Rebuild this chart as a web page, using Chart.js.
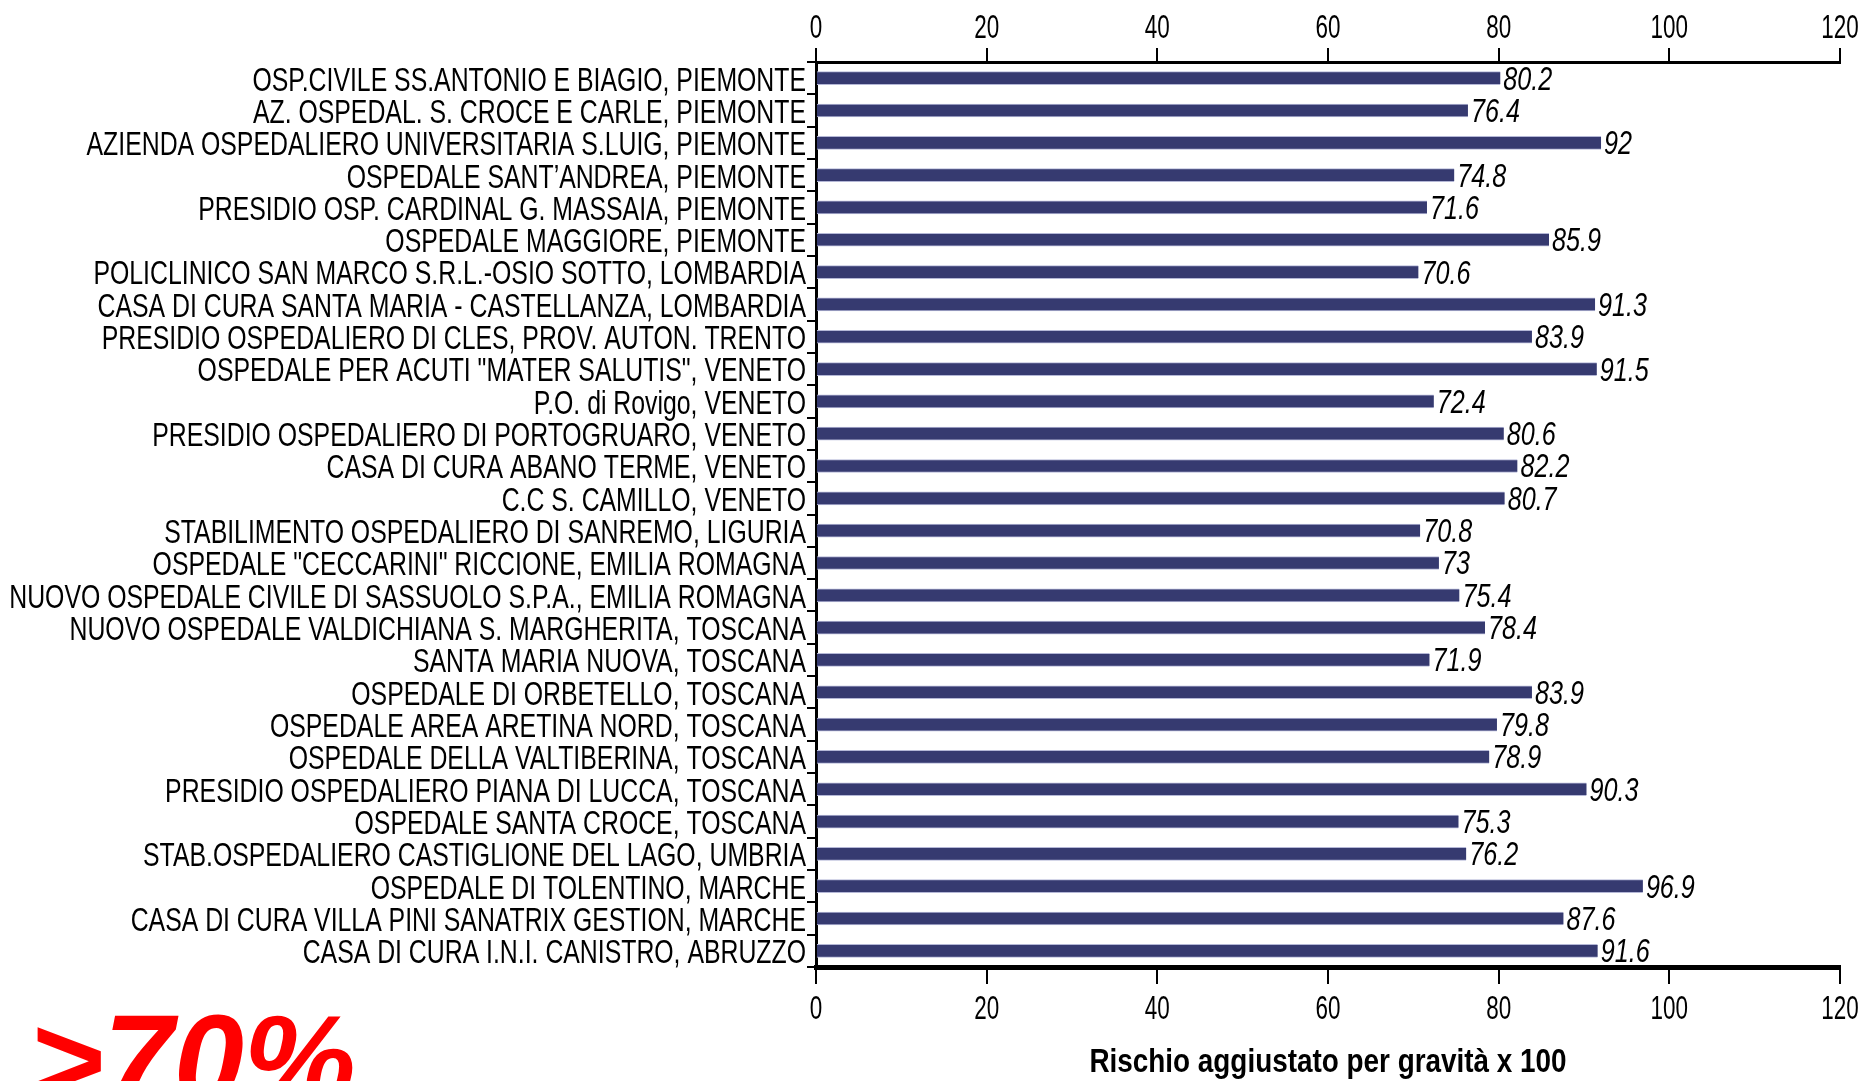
<!DOCTYPE html>
<html>
<head>
<meta charset="utf-8">
<script src="https://cdn.jsdelivr.net/npm/chart.js@4"></script>
<style>
  html, body { margin: 0; padding: 0; background: #fff; overflow: hidden; }
  canvas { display: block; }
</style>
</head>
<body>
<canvas id="riskChart" width="1864" height="1081"></canvas>
<script>
// Ospedali e rischio aggiustato (dall'alto verso il basso)
const hospitals = [
    'OSP.CIVILE SS.ANTONIO E BIAGIO, PIEMONTE',
    'AZ. OSPEDAL. S. CROCE E CARLE, PIEMONTE',
    'AZIENDA OSPEDALIERO UNIVERSITARIA S.LUIG, PIEMONTE',
    'OSPEDALE SANT\u2019ANDREA, PIEMONTE',
    'PRESIDIO OSP. CARDINAL G. MASSAIA, PIEMONTE',
    'OSPEDALE MAGGIORE, PIEMONTE',
    'POLICLINICO SAN MARCO S.R.L.-OSIO SOTTO, LOMBARDIA',
    'CASA DI CURA SANTA MARIA - CASTELLANZA, LOMBARDIA',
    'PRESIDIO OSPEDALIERO DI CLES, PROV. AUTON. TRENTO',
    'OSPEDALE PER ACUTI "MATER SALUTIS", VENETO',
    'P.O. di Rovigo, VENETO',
    'PRESIDIO OSPEDALIERO DI PORTOGRUARO, VENETO',
    'CASA DI CURA ABANO TERME, VENETO',
    'C.C S. CAMILLO, VENETO',
    'STABILIMENTO OSPEDALIERO DI SANREMO, LIGURIA',
    'OSPEDALE "CECCARINI" RICCIONE, EMILIA ROMAGNA',
    'NUOVO OSPEDALE CIVILE DI SASSUOLO S.P.A., EMILIA ROMAGNA',
    'NUOVO OSPEDALE VALDICHIANA S. MARGHERITA, TOSCANA',
    'SANTA MARIA NUOVA, TOSCANA',
    'OSPEDALE DI ORBETELLO, TOSCANA',
    'OSPEDALE AREA ARETINA NORD, TOSCANA',
    'OSPEDALE DELLA VALTIBERINA, TOSCANA',
    'PRESIDIO OSPEDALIERO PIANA DI LUCCA, TOSCANA',
    'OSPEDALE SANTA CROCE, TOSCANA',
    'STAB.OSPEDALIERO CASTIGLIONE DEL LAGO, UMBRIA',
    'OSPEDALE DI TOLENTINO, MARCHE',
    'CASA DI CURA VILLA PINI SANATRIX GESTION, MARCHE',
    'CASA DI CURA I.N.I. CANISTRO, ABRUZZO'
];

const riskValues = [
    80.2, 76.4, 92, 74.8, 71.6, 85.9, 70.6, 91.3, 83.9, 91.5,
    72.4, 80.6, 82.2, 80.7, 70.8, 73, 75.4, 78.4, 71.9, 83.9,
    79.8, 78.9, 90.3, 75.3, 76.2, 96.9, 87.6, 91.6
];

const axisMin = 0;
const axisMax = 120;
const axisStep = 20;
const axisTitle = 'Rischio aggiustato per gravit\u00e0 x 100';
const noteText = '>70%';

// testo "stretto" come nell'originale
function narrowText(ctx, text, x, y, sx, align) {
    ctx.save();
    ctx.translate(x, y);
    ctx.scale(sx, 1);
    ctx.textAlign = align;
    ctx.fillText(text, 0, 0);
    ctx.restore();
}

const textPlugin = {
    id: 'textPlugin',
    afterDraw(chart) {
        const ctx = chart.ctx;
        const yScale = chart.scales.y;
        const xScale = chart.scales.x;
        const xTop = chart.scales.x2;
        const meta = chart.getDatasetMeta(0);

        ctx.save();
        ctx.fillStyle = '#000';
        ctx.textBaseline = 'middle';

        // nomi ospedali
        ctx.font = '34px "Liberation Sans", Arial, sans-serif';
        hospitals.forEach((name, i) => {
            narrowText(ctx, name, yScale.right - 10, yScale.getPixelForValue(i) + 3, 0.73, 'right');
        });

        // valori in corsivo
        ctx.font = 'italic 34px "Liberation Sans", Arial, sans-serif';
        meta.data.forEach((bar, i) => {
            narrowText(ctx, String(riskValues[i]), bar.x + 3, bar.y + 2, 0.74, 'left');
        });

        // etichette asse x (sopra e sotto)
        ctx.font = '34px "Liberation Sans", Arial, sans-serif';
        xTop.ticks.forEach(t => {
            narrowText(ctx, String(t.value), xTop.getPixelForValue(t.value), 29, 0.66, 'center');
        });
        xScale.ticks.forEach(t => {
            narrowText(ctx, String(t.value), xScale.getPixelForValue(t.value), 1010, 0.66, 'center');
        });

        // titolo asse
        ctx.font = 'bold 34px "Liberation Sans", Arial, sans-serif';
        narrowText(ctx, axisTitle, (xScale.left + xScale.right) / 2, 1063, 0.82, 'center');

        // nota in rosso
        ctx.fillStyle = '#ff0000';
        ctx.textBaseline = 'alphabetic';
        ctx.font = 'italic bold 126px "Liberation Sans", Arial, sans-serif';
        ctx.textAlign = 'left';
        ctx.fillText(noteText, 30, 1103);
        ctx.restore();
    }
};

const ctx = document.getElementById('riskChart').getContext('2d');

new Chart(ctx, {
    type: 'bar',
    data: {
        labels: hospitals,
        datasets: [{
            data: riskValues,
            backgroundColor: '#363a70',
            borderColor: '#b4b7d6',
            borderWidth: { top: 1, bottom: 1, left: 0, right: 0 },
            borderSkipped: false,
            barThickness: 13
        }]
    },
    options: {
        indexAxis: 'y',
        responsive: false,
        animation: false,
        layout: { padding: { left: 0, right: 24, top: 0, bottom: 0 } },
        plugins: {
            legend: { display: false },
            tooltip: { enabled: false }
        },
        scales: {
            y: {
                type: 'category',
                offset: true,
                grid: { offset: true, drawOnChartArea: false, tickLength: 9, color: '#000', lineWidth: 2 },
                border: { display: true, color: '#000', width: 3 },
                ticks: { display: false },
                afterFit(scale) { scale.width = 816; }
            },
            x: {
                type: 'linear',
                position: 'bottom',
                min: axisMin,
                max: axisMax,
                ticks: { stepSize: axisStep, display: false },
                grid: { drawOnChartArea: false, tickLength: 17, color: '#000', lineWidth: 2 },
                border: { display: true, color: '#000', width: 5 },
                afterFit(scale) { scale.height = 114; }
            },
            x2: {
                type: 'linear',
                axis: 'x',
                position: 'top',
                min: axisMin,
                max: axisMax,
                ticks: { stepSize: axisStep, display: false },
                grid: { drawOnChartArea: false, tickLength: 14, color: '#000', lineWidth: 2 },
                border: { display: true, color: '#000', width: 3 },
                afterFit(scale) { scale.height = 62; }
            }
        }
    },
    plugins: [textPlugin]
});
</script>
</body>
</html>
